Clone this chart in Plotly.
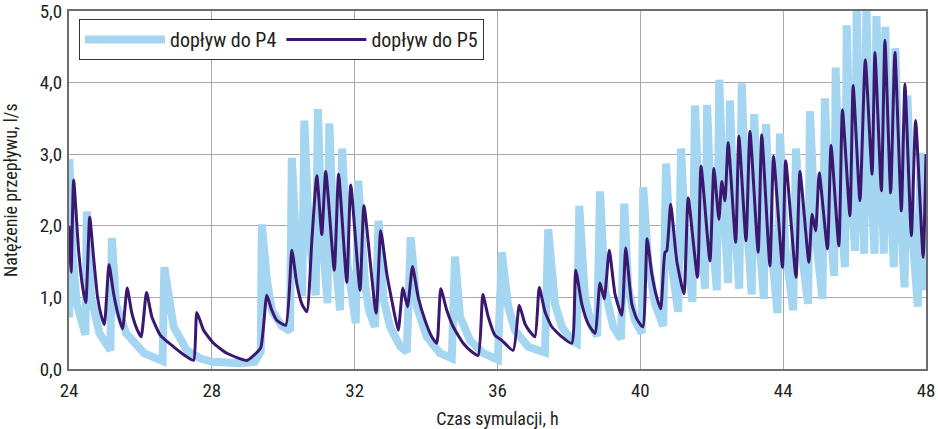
import plotly.graph_objects as go

# ---- data ----
p4_time = [24.00, 24.01, 24.10, 24.22, 24.46, 24.50, 24.62, 24.85, 25.16, 25.20, 25.32, 25.60, 26.10, 26.62,
           26.67, 26.93, 27.30, 27.67, 28.00, 28.80, 29.20, 29.37, 29.40, 29.54, 29.68, 29.96, 30.19,
           30.24, 30.36, 30.53, 30.59, 30.72, 30.91, 30.97, 31.08, 31.24, 31.29, 31.42, 31.59,
           31.65, 31.80, 32.03, 32.10, 32.29, 32.40, 32.57, 32.67, 32.80, 32.99, 33.27, 33.46,
           33.57, 33.74, 34.02, 34.39, 34.72, 34.81, 34.95, 35.23, 35.60, 36.01,
           36.12, 36.30, 36.49, 36.86, 37.33, 37.42, 37.61, 37.80, 38.08, 38.22,
           38.29, 38.45, 38.64, 38.79, 38.87, 39.01, 39.24, 39.46, 39.55, 39.66, 39.85, 40.04,
           40.08, 40.22, 40.41, 40.64, 40.72, 40.85, 41.06, 41.14, 41.27, 41.46,
           41.53, 41.66, 41.81, 41.87, 41.99, 42.14, 42.21, 42.32, 42.46, 42.51, 42.62, 42.77,
           42.84, 42.96, 43.12, 43.19, 43.30, 43.46, 43.52, 43.65, 43.84, 43.91, 44.06, 44.28,
           44.36, 44.50, 44.70, 44.75, 44.90, 45.10, 45.17, 45.28, 45.43, 45.47, 45.58, 45.73,
           45.78, 45.88, 46.01, 46.06, 46.15, 46.27, 46.33, 46.43, 46.56, 46.61, 46.71, 46.82,
           46.86, 46.96, 47.10, 47.14, 47.25, 47.40, 47.48, 47.60, 47.77, 47.85, 48.00]
p4_flow = [0.72, 2.93, 1.60, 0.90, 0.48, 2.20, 1.00, 0.50, 0.26, 1.83, 0.90, 0.50, 0.22, 0.11,
           1.42, 0.59, 0.26, 0.15, 0.10, 0.08, 0.10, 0.24, 2.02, 1.25, 0.82, 0.60, 0.53,
           2.95, 1.75, 1.02, 3.47, 1.90, 1.03, 3.63, 1.90, 0.92, 3.43, 1.75, 0.82,
           3.08, 1.45, 0.64, 2.63, 1.19, 0.82, 0.59, 2.07, 1.00, 0.59, 0.32, 0.24,
           1.84, 0.87, 0.45, 0.22, 0.15, 1.57, 0.73, 0.40, 0.22, 0.13,
           1.63, 0.87, 0.54, 0.31, 0.23, 1.95, 0.91, 0.59, 0.40, 0.36,
           2.28, 1.00, 0.59, 0.46, 2.48, 1.10, 0.59, 0.42, 2.31, 1.14, 0.68, 0.50,
           2.54, 1.51, 0.91, 0.60, 2.87, 1.55, 0.80, 3.08, 1.70, 0.94,
           3.68, 2.10, 1.12, 3.69, 2.10, 1.10, 4.04, 2.40, 1.20, 3.75, 2.20, 1.12,
           3.99, 2.20, 1.04, 3.56, 2.00, 0.98, 3.42, 1.80, 0.78, 3.29, 1.70, 0.82,
           3.08, 1.70, 0.91, 3.60, 1.90, 0.98, 3.78, 2.20, 1.30, 4.21, 2.50, 1.42,
           4.80, 2.80, 1.65, 5.10, 2.90, 1.61, 5.10, 2.90, 1.61, 4.93, 2.90, 1.61,
           4.78, 2.80, 1.42, 4.48, 2.50, 1.14, 3.82, 2.00, 0.87, 3.02, 1.10]

p5_time = [24.00, 24.03, 24.06, 24.13, 24.27, 24.38, 24.47, 24.58, 24.69, 24.80, 24.90, 24.99,
           25.12, 25.25, 25.39, 25.50, 25.63, 25.76, 25.90, 26.02, 26.17, 26.32, 26.56, 26.93, 27.30, 27.49,
           27.58, 27.77, 28.05, 28.42, 28.98, 29.15, 29.37, 29.54, 29.68, 29.82, 30.07,
           30.24, 30.38, 30.52, 30.66, 30.80, 30.94, 31.08, 31.19, 31.43, 31.55, 31.78, 31.89,
           32.15, 32.26, 32.60, 32.73, 32.90, 33.04, 33.22, 33.35, 33.48, 33.62, 33.78, 33.97, 34.16, 34.30,
           34.41, 34.58, 34.76, 35.04, 35.28, 35.46, 35.59, 35.74, 35.93, 36.12, 36.44,
           36.61, 36.77, 36.91, 37.05, 37.17, 37.33, 37.52, 37.80, 38.08,
           38.19, 38.36, 38.54, 38.73, 38.87, 38.99, 39.13, 39.29, 39.48, 39.59, 39.76, 39.90, 40.07,
           40.19, 40.32, 40.46, 40.57, 40.69, 40.74, 40.85, 41.02, 41.22, 41.34, 41.60, 41.70, 41.95,
           42.06, 42.20, 42.28, 42.37, 42.46, 42.67, 42.76, 42.96, 43.07, 43.30, 43.40, 43.63,
           43.73, 43.98, 44.07, 44.36, 44.47, 44.72, 44.81, 44.91, 45.01, 45.24, 45.34, 45.56,
           45.66, 45.87, 45.96, 46.15, 46.30, 46.49, 46.57, 46.75, 46.85, 47.01, 47.13, 47.31,
           47.41, 47.59, 47.71, 47.92, 48.00]
p5_flow = [2.00, 1.60, 1.35, 2.64, 1.65, 1.15, 0.93, 2.12, 1.55, 1.00, 0.75, 0.62,
           1.46, 1.05, 0.73, 0.56, 1.13, 0.78, 0.56, 0.45, 1.07, 0.73, 0.47, 0.31, 0.17, 0.12,
           0.79, 0.54, 0.36, 0.22, 0.12, 0.18, 0.30, 1.03, 0.82, 0.68, 0.61,
           1.66, 1.19, 0.91, 0.80, 1.79, 2.70, 1.88, 2.76, 1.38, 2.72, 1.21, 2.57,
           1.10, 2.28, 0.78, 1.93, 1.33, 0.96, 0.54, 1.13, 0.87, 1.43, 1.00, 0.68, 0.45, 0.36,
           1.12, 0.82, 0.59, 0.36, 0.24, 0.19, 1.04, 0.73, 0.47, 0.40, 0.26,
           0.89, 0.63, 0.52, 0.45, 1.14, 0.80, 0.59, 0.45, 0.36,
           1.38, 0.91, 0.63, 0.50, 1.20, 0.98, 1.66, 1.05, 0.75, 1.69, 0.91, 0.70, 0.59,
           1.82, 1.33, 1.00, 0.84, 1.63, 1.65, 2.30, 1.51, 1.05, 2.39, 1.28, 2.83, 1.51,
           2.80, 2.09, 2.62, 2.35, 3.16, 1.77, 3.25, 1.79, 3.32, 1.63, 3.27, 1.44,
           2.97, 1.42, 2.91, 1.28, 2.76, 1.49, 2.16, 1.93, 2.74, 1.68, 3.12, 1.72,
           3.62, 2.14, 3.96, 2.35, 4.32, 2.72, 4.42, 2.49, 4.59, 2.46, 4.42, 2.21,
           3.98, 1.86, 3.47, 1.56, 3.00]

x_ticks = [24, 28, 32, 36, 40, 44, 48]
y_ticks = [0, 1, 2, 3, 4, 5]
y_tick_labels = ["0,0", "1,0", "2,0", "3,0", "4,0", "5,0"]

series_names = ["dopływ do P4", "dopływ do P5"]
x_title = "Czas symulacji, h"
y_title = "Natężenie przepływu, l/s"

FONT = "Liberation Sans Narrow, Arial Narrow, Roboto Condensed, Liberation Sans, sans-serif"
TXT = "#231f20"
ML, MR, MT, MB = 69, 12, 11, 60
PLOT_W = 938 - ML - MR
PLOT_H = 429 - MT - MB

fig = go.Figure()
fig.add_trace(go.Scatter(x=p4_time, y=p4_flow, mode="lines", name=series_names[0],
                         line=dict(color="#a5d6f1", width=8)))
fig.add_trace(go.Scatter(x=p5_time, y=p5_flow, mode="lines", name=series_names[1],
                         line=dict(color="#3a1870", width=3, shape="spline", smoothing=0.5)))

fig.update_layout(
    width=938, height=429,
    margin=dict(l=ML, r=MR, t=MT, b=MB),
    paper_bgcolor="white", plot_bgcolor="white",
    font=dict(family=FONT, size=19, color=TXT),
    legend=dict(orientation="h", x=10 / PLOT_W, y=1 - 8 / PLOT_H, xanchor="left", yanchor="top",
                bgcolor="white", bordercolor="#333333", borderwidth=1,
                itemwidth=80, font=dict(family=FONT, size=20, color=TXT)),
    xaxis=dict(range=[24, 48], tickvals=x_ticks, ticktext=[str(v) for v in x_ticks],
               showgrid=True, gridcolor="#a9a9a9", gridwidth=1,
               showline=True, linecolor="#6d6d6d", linewidth=2, mirror=True,
               ticks="", zeroline=False, automargin=False, ticklabelstandoff=3,
               ticklabeloverflow="allow", tickfont=dict(size=19),
               title=dict(text=x_title, standoff=19, font=dict(size=18))),
    yaxis=dict(range=[0, 5], tickvals=y_ticks, ticktext=y_tick_labels,
               showgrid=True, gridcolor="#a9a9a9", gridwidth=1,
               showline=True, linecolor="#6d6d6d", linewidth=2, mirror=True,
               ticks="", zeroline=False, automargin=False, ticklabelstandoff=1,
               ticklabeloverflow="allow", tickfont=dict(size=19)),
    annotations=[dict(text=y_title, textangle=-90, xref="paper", yref="paper",
                      x=-(ML - 10) / PLOT_W, y=(369 - 190) / PLOT_H, xanchor="center", yanchor="middle",
                      showarrow=False, font=dict(family=FONT, size=18, color=TXT))],
)

fig.write_html("out.html")
